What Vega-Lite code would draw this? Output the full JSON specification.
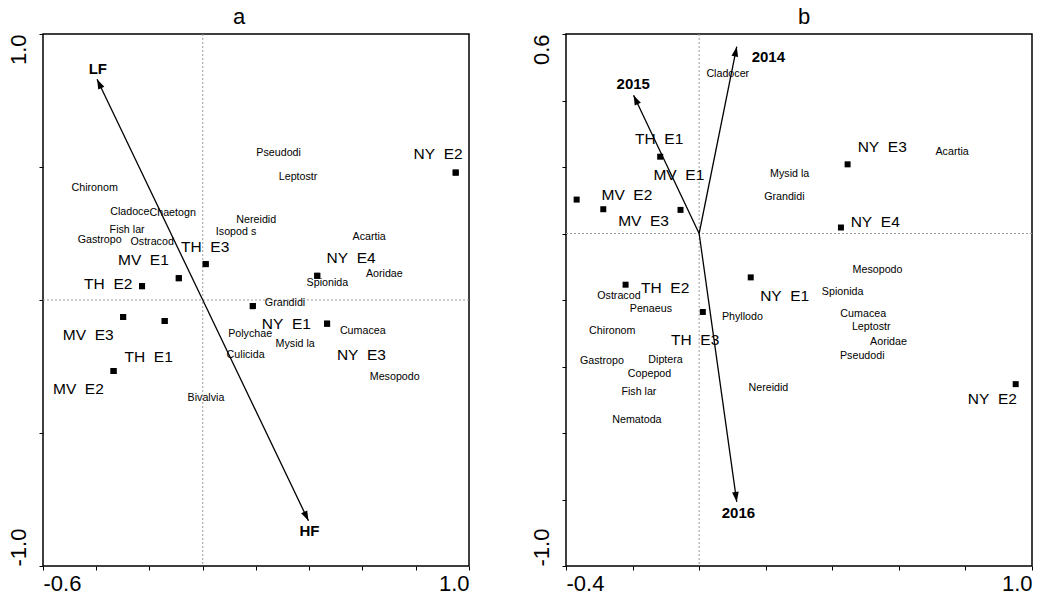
{
  "$schema": "https://vega.github.io/schema/vega-lite/v6.json",
  "padding": {"left": 6, "top": 4, "right": 5, "bottom": 0},
  "bounds": "flush",
  "spacing": 97,
  "config": {
    "font": "Liberation Sans",
    "view": {"stroke": "#000", "strokeWidth": 1.5},
    "axis": {
      "grid": false, "domain": false, "ticks": true, "tickColor": "#000", "tickSize": 4, "tickWidth": 1,
      "labelFont": "Liberation Sans", "labelFontSize": 22, "labelColor": "#000", "labelOverlap": false
    },
    "title": {"font": "Liberation Sans", "fontSize": 22, "fontWeight": "normal", "color": "#000", "anchor": "middle", "offset": 5}
  },
  "datasets": {
    "origin": [{"x": 0, "y": 0}],
    "sitesA": [
      {"site": "NY\u00a0\u00a0E2", "x": 0.950, "y": 0.479, "lx": 0.884, "ly": 0.550},
      {"site": "TH\u00a0\u00a0E3", "x": 0.011, "y": 0.135, "lx": 0.009, "ly": 0.199},
      {"site": "MV\u00a0\u00a0E1", "x": -0.090, "y": 0.082, "lx": -0.223, "ly": 0.149},
      {"site": "TH\u00a0\u00a0E2", "x": -0.228, "y": 0.052, "lx": -0.355, "ly": 0.061},
      {"site": "NY\u00a0\u00a0E4", "x": 0.430, "y": 0.091, "lx": 0.557, "ly": 0.159},
      {"site": "NY\u00a0\u00a0E1", "x": 0.188, "y": -0.023, "lx": 0.314, "ly": -0.091},
      {"site": "MV\u00a0\u00a0E3", "x": -0.299, "y": -0.064, "lx": -0.430, "ly": -0.132},
      {"site": "TH\u00a0\u00a0E1", "x": -0.143, "y": -0.079, "lx": -0.203, "ly": -0.214},
      {"site": "MV\u00a0\u00a0E2", "x": -0.335, "y": -0.267, "lx": -0.467, "ly": -0.336},
      {"site": "NY\u00a0\u00a0E3", "x": 0.467, "y": -0.089, "lx": 0.596, "ly": -0.207}
    ],
    "speciesA": [
      {"taxon": "Pseudodi", "x": 0.285, "y": 0.552},
      {"taxon": "Leptostr", "x": 0.358, "y": 0.462},
      {"taxon": "Chironom", "x": -0.406, "y": 0.420},
      {"taxon": "Cladoce", "x": -0.274, "y": 0.332},
      {"taxon": "Chaetogn", "x": -0.113, "y": 0.327},
      {"taxon": "Nereidid", "x": 0.201, "y": 0.301},
      {"taxon": "Fish lar", "x": -0.284, "y": 0.264},
      {"taxon": "Isopod s", "x": 0.125, "y": 0.257},
      {"taxon": "Gastropo", "x": -0.387, "y": 0.224},
      {"taxon": "Ostracod", "x": -0.190, "y": 0.219},
      {"taxon": "Acartia", "x": 0.625, "y": 0.236},
      {"taxon": "Aoridae", "x": 0.682, "y": 0.098},
      {"taxon": "Spionida", "x": 0.468, "y": 0.063},
      {"taxon": "Grandidi", "x": 0.309, "y": -0.012},
      {"taxon": "Polychae", "x": 0.178, "y": -0.127},
      {"taxon": "Cumacea", "x": 0.601, "y": -0.118},
      {"taxon": "Mysid la", "x": 0.347, "y": -0.165},
      {"taxon": "Culicida", "x": 0.161, "y": -0.207},
      {"taxon": "Mesopodo", "x": 0.721, "y": -0.288},
      {"taxon": "Bivalvia", "x": 0.012, "y": -0.368}
    ],
    "envA": [
      {"variable": "LF", "x": -0.397, "y": 0.830, "lx": -0.394, "ly": 0.867},
      {"variable": "HF", "x": 0.397, "y": -0.830, "lx": 0.401, "ly": -0.868}
    ],
    "sitesB": [
      {"site": "TH\u00a0\u00a0E1", "x": -0.117, "y": 0.231, "lx": -0.120, "ly": 0.284},
      {"site": "MV\u00a0\u00a0E1", "x": -0.056, "y": 0.071, "lx": -0.061, "ly": 0.177},
      {"site": "MV\u00a0\u00a0E2", "x": -0.368, "y": 0.102, "lx": -0.217, "ly": 0.115},
      {"site": "MV\u00a0\u00a0E3", "x": -0.288, "y": 0.073, "lx": -0.167, "ly": 0.037},
      {"site": "NY\u00a0\u00a0E3", "x": 0.446, "y": 0.208, "lx": 0.550, "ly": 0.261},
      {"site": "NY\u00a0\u00a0E4", "x": 0.426, "y": 0.018, "lx": 0.529, "ly": 0.035},
      {"site": "TH\u00a0\u00a0E2", "x": -0.221, "y": -0.154, "lx": -0.102, "ly": -0.163},
      {"site": "NY\u00a0\u00a0E1", "x": 0.155, "y": -0.132, "lx": 0.257, "ly": -0.188},
      {"site": "TH\u00a0\u00a0E3", "x": 0.011, "y": -0.236, "lx": -0.012, "ly": -0.321},
      {"site": "NY\u00a0\u00a0E2", "x": 0.951, "y": -0.453, "lx": 0.881, "ly": -0.498}
    ],
    "speciesB": [
      {"taxon": "Cladocer", "x": 0.086, "y": 0.480},
      {"taxon": "Acartia", "x": 0.760, "y": 0.245},
      {"taxon": "Mysid la", "x": 0.272, "y": 0.180},
      {"taxon": "Grandidi", "x": 0.256, "y": 0.110},
      {"taxon": "Mesopodo", "x": 0.536, "y": -0.111},
      {"taxon": "Ostracod", "x": -0.241, "y": -0.187},
      {"taxon": "Spionida", "x": 0.431, "y": -0.175},
      {"taxon": "Penaeus", "x": -0.145, "y": -0.226},
      {"taxon": "Phyllodo", "x": 0.130, "y": -0.251},
      {"taxon": "Cumacea", "x": 0.493, "y": -0.241},
      {"taxon": "Chironom", "x": -0.261, "y": -0.293},
      {"taxon": "Leptostr", "x": 0.517, "y": -0.281},
      {"taxon": "Aoridae", "x": 0.569, "y": -0.327},
      {"taxon": "Pseudodi", "x": 0.490, "y": -0.368},
      {"taxon": "Gastropo", "x": -0.292, "y": -0.384},
      {"taxon": "Diptera", "x": -0.101, "y": -0.381},
      {"taxon": "Copepod", "x": -0.149, "y": -0.422},
      {"taxon": "Nereidid", "x": 0.208, "y": -0.464},
      {"taxon": "Fish lar", "x": -0.181, "y": -0.478},
      {"taxon": "Nematoda", "x": -0.187, "y": -0.561}
    ],
    "envB": [
      {"variable": "2014", "x": 0.113, "y": 0.562, "lx": 0.208, "ly": 0.531},
      {"variable": "2015", "x": -0.197, "y": 0.416, "lx": -0.198, "ly": 0.449},
      {"variable": "2016", "x": 0.113, "y": -0.807, "lx": 0.118, "ly": -0.840}
    ]
  },
  "hconcat": [
    {
      "title": {"text": "a", "dx": -17},
      "width": 426,
      "height": 532,
      "layer": [
        {
          "data": {"name": "sitesA"},
          "mark": {"type": "point", "shape": "square", "filled": true, "size": 36, "color": "#000", "opacity": 1},
          "encoding": {
            "x": {
              "field": "x", "type": "quantitative", "title": null,
              "scale": {"domain": [-0.6, 1.0], "nice": false, "zero": false},
              "axis": {
                "title": null, "values": [-0.6, -0.4, -0.2, 0, 0.2, 0.4, 0.6, 0.8, 1.0],
                "labelFlush": true, "labelPadding": 3,
                "labelExpr": "abs(datum.value + 0.6) < 1e-6 ? '-0.6' : abs(datum.value - 1) < 1e-6 ? '1.0' : ''"
              }
            },
            "y": {
              "field": "y", "type": "quantitative", "title": null,
              "scale": {"domain": [-1.0, 1.0], "nice": false, "zero": false},
              "axis": {
                "title": null, "values": [-1.0, -0.5, 0, 0.5, 1.0],
                "labelAngle": -90, "labelBaseline": "bottom", "labelPadding": 9,
                "labelAlign": {"condition": {"test": "datum.value > 0", "value": "right"}, "value": "left"},
                "labelExpr": "abs(datum.value + 1) < 1e-6 ? '-1.0' : abs(datum.value - 1) < 1e-6 ? '1.0' : ''"
              }
            }
          }
        },
        {
          "data": {"name": "origin"},
          "mark": {"type": "rule", "stroke": "#9a9a9a", "strokeDash": [2, 2], "strokeWidth": 1},
          "encoding": {"x": {"field": "x", "type": "quantitative", "title": null}}
        },
        {
          "data": {"name": "origin"},
          "mark": {"type": "rule", "stroke": "#9a9a9a", "strokeDash": [2, 2], "strokeWidth": 1},
          "encoding": {"y": {"field": "y", "type": "quantitative", "title": null}}
        },
        {
          "data": {"name": "speciesA"},
          "mark": {"type": "text", "fontSize": 10.7, "color": "#000", "align": "center", "baseline": "middle"},
          "encoding": {
            "x": {"field": "x", "type": "quantitative", "title": null},
            "y": {"field": "y", "type": "quantitative", "title": null},
            "text": {"field": "taxon"}
          }
        },
        {
          "data": {"name": "sitesA"},
          "mark": {"type": "text", "fontSize": 15.5, "color": "#000", "align": "center", "baseline": "middle"},
          "encoding": {
            "x": {"field": "lx", "type": "quantitative", "title": null},
            "y": {"field": "ly", "type": "quantitative", "title": null},
            "text": {"field": "site"}
          }
        },
        {
          "data": {"name": "envA"},
          "mark": {"type": "rule", "color": "#000", "strokeWidth": 1.3},
          "encoding": {
            "x": {"field": "x", "type": "quantitative", "title": null},
            "y": {"field": "y", "type": "quantitative", "title": null},
            "x2": {"datum": 0},
            "y2": {"datum": 0}
          }
        },
        {
          "data": {"name": "envA"},
          "transform": [{"calculate": "atan2(datum.x, datum.y) * 180 / PI", "as": "heading"}],
          "mark": {"type": "point", "shape": "M0,0L-0.75,2.2L0.75,2.2Z", "filled": true, "size": 81, "color": "#000", "opacity": 1},
          "encoding": {
            "x": {"field": "x", "type": "quantitative", "title": null},
            "y": {"field": "y", "type": "quantitative", "title": null},
            "angle": {"field": "heading", "type": "quantitative", "scale": null}
          }
        },
        {
          "data": {"name": "envA"},
          "mark": {"type": "text", "fontSize": 15, "fontWeight": "bold", "color": "#000", "align": "center", "baseline": "middle"},
          "encoding": {
            "x": {"field": "lx", "type": "quantitative", "title": null},
            "y": {"field": "ly", "type": "quantitative", "title": null},
            "text": {"field": "variable"}
          }
        },
        {
          "data": {"name": "sitesA"},
          "mark": {"type": "point", "shape": "square", "filled": true, "size": 36, "color": "#000", "opacity": 1},
          "encoding": {
            "x": {"field": "x", "type": "quantitative", "title": null},
            "y": {"field": "y", "type": "quantitative", "title": null}
          }
        }
      ]
    },
    {
      "title": {"text": "b", "dx": 5},
      "width": 466,
      "height": 532,
      "layer": [
        {
          "data": {"name": "sitesB"},
          "mark": {"type": "point", "shape": "square", "filled": true, "size": 36, "color": "#000", "opacity": 1},
          "encoding": {
            "x": {
              "field": "x", "type": "quantitative", "title": null,
              "scale": {"domain": [-0.4, 1.0], "nice": false, "zero": false},
              "axis": {
                "title": null, "values": [-0.4, -0.2, 0, 0.2, 0.4, 0.6, 0.8, 1.0],
                "labelFlush": true, "labelPadding": 3,
                "labelExpr": "abs(datum.value + 0.4) < 1e-6 ? '-0.4' : abs(datum.value - 1) < 1e-6 ? '1.0' : ''"
              }
            },
            "y": {
              "field": "y", "type": "quantitative", "title": null,
              "scale": {"domain": [-1.0, 0.6], "nice": false, "zero": false},
              "axis": {
                "title": null, "values": [-1.0, -0.8, -0.6, -0.4, -0.2, 0, 0.2, 0.4, 0.6],
                "labelAngle": -90, "labelBaseline": "bottom", "labelPadding": 9,
                "labelAlign": {"condition": {"test": "datum.value > 0", "value": "right"}, "value": "left"},
                "labelExpr": "abs(datum.value + 1) < 1e-6 ? '-1.0' : abs(datum.value - 0.6) < 1e-6 ? '0.6' : ''"
              }
            }
          }
        },
        {
          "data": {"name": "origin"},
          "mark": {"type": "rule", "stroke": "#9a9a9a", "strokeDash": [2, 2], "strokeWidth": 1},
          "encoding": {"x": {"field": "x", "type": "quantitative", "title": null}}
        },
        {
          "data": {"name": "origin"},
          "mark": {"type": "rule", "stroke": "#9a9a9a", "strokeDash": [2, 2], "strokeWidth": 1},
          "encoding": {"y": {"field": "y", "type": "quantitative", "title": null}}
        },
        {
          "data": {"name": "speciesB"},
          "mark": {"type": "text", "fontSize": 10.7, "color": "#000", "align": "center", "baseline": "middle"},
          "encoding": {
            "x": {"field": "x", "type": "quantitative", "title": null},
            "y": {"field": "y", "type": "quantitative", "title": null},
            "text": {"field": "taxon"}
          }
        },
        {
          "data": {"name": "sitesB"},
          "mark": {"type": "text", "fontSize": 15.5, "color": "#000", "align": "center", "baseline": "middle"},
          "encoding": {
            "x": {"field": "lx", "type": "quantitative", "title": null},
            "y": {"field": "ly", "type": "quantitative", "title": null},
            "text": {"field": "site"}
          }
        },
        {
          "data": {"name": "envB"},
          "mark": {"type": "rule", "color": "#000", "strokeWidth": 1.3},
          "encoding": {
            "x": {"field": "x", "type": "quantitative", "title": null},
            "y": {"field": "y", "type": "quantitative", "title": null},
            "x2": {"datum": 0},
            "y2": {"datum": 0}
          }
        },
        {
          "data": {"name": "envB"},
          "transform": [{"calculate": "atan2(datum.x, datum.y) * 180 / PI", "as": "heading"}],
          "mark": {"type": "point", "shape": "M0,0L-0.75,2.2L0.75,2.2Z", "filled": true, "size": 81, "color": "#000", "opacity": 1},
          "encoding": {
            "x": {"field": "x", "type": "quantitative", "title": null},
            "y": {"field": "y", "type": "quantitative", "title": null},
            "angle": {"field": "heading", "type": "quantitative", "scale": null}
          }
        },
        {
          "data": {"name": "envB"},
          "mark": {"type": "text", "fontSize": 15, "fontWeight": "bold", "color": "#000", "align": "center", "baseline": "middle"},
          "encoding": {
            "x": {"field": "lx", "type": "quantitative", "title": null},
            "y": {"field": "ly", "type": "quantitative", "title": null},
            "text": {"field": "variable"}
          }
        }
      ]
    }
  ]
}
